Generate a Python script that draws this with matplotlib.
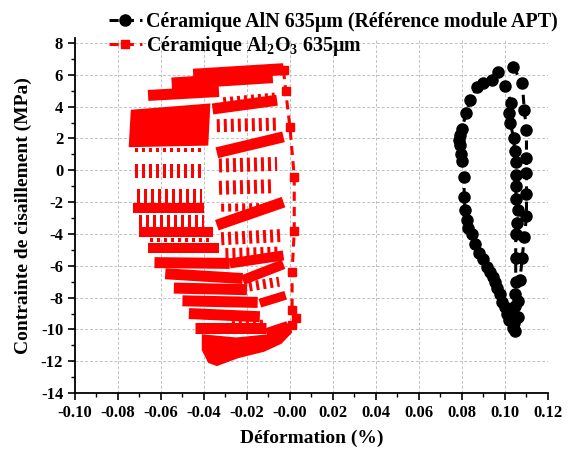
import matplotlib
matplotlib.use("Agg")
import matplotlib.pyplot as plt
from matplotlib.ticker import MultipleLocator, FormatStrFormatter

plt.rcParams["font.family"] = ["Liberation Serif", "DejaVu Serif"]
plt.rcParams["font.weight"] = "bold"
plt.rcParams["axes.unicode_minus"] = False
plt.rcParams["mathtext.fontset"] = "custom"
plt.rcParams["mathtext.rm"] = "Liberation Serif:bold"
plt.rcParams["mathtext.it"] = "Liberation Serif:bold"
plt.rcParams["mathtext.bf"] = "Liberation Serif:bold"

# --- AlN 635um (reference APT module): one loop, read point by point ---
aln_x = [0.1037, 0.108, 0.109, 0.110, 0.110, 0.110, 0.110, 0.110, 0.109, 0.108,
         0.107, 0.106, 0.106, 0.1047, 0.1037, 0.102, 0.101, 0.0998, 0.0986,
         0.0975, 0.0963, 0.0954, 0.0944, 0.093, 0.0916, 0.0898, 0.088, 0.0862,
         0.0847, 0.083, 0.0822, 0.0814, 0.081, 0.081, 0.080, 0.0795,
         0.079, 0.0788, 0.079, 0.080, 0.082, 0.0837, 0.087, 0.090, 0.094,
         0.0967, 0.100, 0.103, 0.102, 0.1025, 0.104, 0.1045, 0.105, 0.105,
         0.1052, 0.105, 0.106, 0.1055, 0.105, 0.105, 0.105, 0.1048, 0.1045,
         0.104]
aln_y = [6.5, 5.5, 3.8, 2.5, 0.8, -0.2, -1.5, -2.9, -4.2, -5.5,
         -6.9, -8.2, -9.2, -10.1, -9.9, -9.4, -9.0, -8.6, -8.3,
         -7.8, -7.4, -7.0, -6.7, -6.4, -6.1, -5.6, -5.2, -4.6,
         -4.0, -3.6, -3.1, -2.5, -1.7, -0.4, 0.6, 1.0,
         1.6, 1.9, 2.2, 2.6, 3.6, 4.4, 5.2, 5.5, 5.7,
         6.2, 5.3, 4.2, 3.6, 3.0, 2.0, 1.2, 0.5, -0.3,
         -1.0, -1.8, -2.5, -3.3, -4.0, -5.5, -7.0, -7.8, -8.5,
         -9.6]

# --- Al2O3 635um: fast branch near 0 strain (square markers) ---
alo_x = [-0.003, -0.002, 0.000, 0.002, 0.002, 0.001, 0.001, 0.003, 0.001]
alo_y = [6.3, 5.0, 2.7, -0.4, -3.8, -6.4, -8.8, -9.3, -9.7]

# dense marker bands (start x, start y, end x, end y, thickness in px)
band_x0 = [-0.045, -0.055, -0.066, -0.036, -0.034, -0.073, -0.070, -0.066,
           -0.063, -0.034, -0.028, -0.058, -0.054, -0.050, -0.047, -0.044,
           -0.022, -0.014, -0.011]
band_y0 = [6.0, 5.45, 4.7, 3.85, 1.1, -2.4, -3.9, -4.9,
           -5.8, -3.45, -5.85, -6.5, -7.4, -8.2, -9.0, -9.9,
           -6.9, -8.35, -10.2]
band_x1 = [-0.003, -0.008, -0.033, -0.006, -0.003, -0.040, -0.036, -0.033,
           -0.028, -0.003, -0.003, -0.022, -0.020, -0.015, -0.014, -0.011,
           -0.003, -0.002, -0.001]
band_y1 = [6.35, 5.85, 4.95, 4.4, 2.1, -2.4, -3.9, -4.9,
           -5.85, -2.0, -5.35, -6.8, -7.5, -8.3, -9.2, -9.9,
           -5.9, -7.85, -9.75]
band_px = [12, 12, 11, 11, 11, 10, 10, 10, 11, 11, 10, 11, 11, 11, 11, 11,
           10, 9, 9]

# dashed rows between the bands
row_x0 = [-0.031, -0.034, -0.072, -0.072, -0.071, -0.070, -0.065, -0.033,
          -0.033, -0.032, -0.032, -0.030, -0.019, -0.027]
row_y0 = [4.3, 2.8, 1.25, -0.05, -1.6, -3.2, -4.4, 0.3,
          -1.1, -2.35, -4.3, -5.3, -7.3, -9.6]
row_x1 = [-0.007, -0.006, -0.040, -0.041, -0.041, -0.040, -0.036, -0.006,
          -0.007, -0.008, -0.004, -0.004, -0.005, -0.011]
row_y1 = [4.6, 2.9, 1.25, -0.05, -1.6, -3.2, -4.4, 0.4,
          -1.0, -2.3, -4.1, -5.2, -7.0, -9.5]
row_px = [9, 13, 4, 14, 14, 12, 4, 14, 14, 8, 13, 13, 10, 4]

# large filled areas (left block and bottom blob)
block_x = [-0.075, -0.074, -0.060, -0.037, -0.038]
block_y = [1.45, 3.8, 3.95, 4.2, 1.55]
blob_x = [-0.041, -0.025, -0.010, -0.003, 0.000, 0.001, -0.004, -0.012,
          -0.024, -0.034, -0.038, -0.041]
blob_y = [-10.3, -10.5, -10.3, -9.8, -9.5, -10.2, -10.9, -11.4,
          -11.8, -12.3, -12.1, -11.3]

RED = "#ff0000"
PT = 72 / 100  # points per pixel at dpi 100

fig = plt.figure(figsize=(5.72, 4.54), dpi=100)
ax = fig.add_axes([0.131, 0.134, 0.827, 0.782])

# Al2O3 series
ax.fill(block_x, block_y, color=RED, lw=0, zorder=3)
ax.fill(blob_x, blob_y, color=RED, lw=0, zorder=3)
for x0, y0, x1, y1, w in zip(band_x0, band_y0, band_x1, band_y1, band_px):
    ax.plot([x0, x1], [y0, y1], color=RED, lw=w * PT,
            solid_capstyle="butt", zorder=3)
for x0, y0, x1, y1, h in zip(row_x0, row_y0, row_x1, row_y1, row_px):
    ax.plot([x0, x1], [y0, y1], color=RED, lw=h * PT,
            dashes=(3.0 / h, 4.0 / h), dash_capstyle="butt", zorder=3)
ax.plot(alo_x, alo_y, color=RED, lw=2.2, dashes=(3, 2), marker="s",
        markersize=6, zorder=4, label="Céramique Al$_2$O$_3$ 635µm")

# AlN series
ax.plot(aln_x, aln_y, color="black", lw=2.2, dashes=(3, 2), marker="o",
        markersize=8, zorder=5, label="Céramique AlN 635µm (Référence module APT)")

ax.set_xlim(-0.10, 0.12)
ax.set_ylim(-14, 8.3)
ax.xaxis.set_major_locator(MultipleLocator(0.02))
ax.xaxis.set_minor_locator(MultipleLocator(0.01))
ax.xaxis.set_major_formatter(FormatStrFormatter("%.2f"))
ax.yaxis.set_major_locator(MultipleLocator(2))
ax.yaxis.set_minor_locator(MultipleLocator(1))

ax.grid(True, which="major", color="#c0c0c0", lw=0.7, dashes=(3, 2))
ax.set_axisbelow(True)
for side in ("top", "right"):
    ax.spines[side].set_visible(False)
for side in ("left", "bottom"):
    ax.spines[side].set_linewidth(1.3)
ax.tick_params(which="major", direction="out", length=5, width=1.2,
               labelsize=12)
ax.tick_params(which="minor", direction="out", length=3, width=1.0)

ax.set_xlabel("Déformation (%)", fontsize=14, fontweight="bold", labelpad=6)
ax.set_ylabel("Contrainte de cisaillement (MPa)", fontsize=14,
              fontweight="bold", labelpad=6)

handles, labels = ax.get_legend_handles_labels()
fig.legend(handles[::-1], labels[::-1], loc="upper left",
           bbox_to_anchor=(0.166, 1.005), frameon=False,
           handlelength=1.65, handletextpad=0.2, labelspacing=0.1,
           borderpad=0.2, prop={"weight": "bold", "size": 14.4})

fig.savefig("out.png", dpi=100)
